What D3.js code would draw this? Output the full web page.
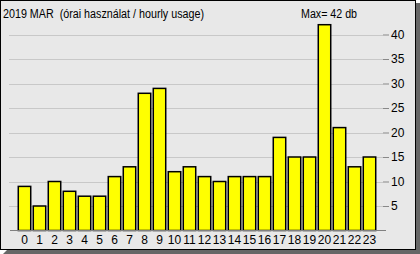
<!DOCTYPE html>
<html>
<head>
<meta charset="utf-8">
<script src="https://cdn.jsdelivr.net/npm/d3@7"></script>
<style>
  body { margin: 0; background: #fff; }
  svg { display: block; }
  text { font-family: "Liberation Sans", Arial, sans-serif; font-size: 12px; fill: #000; white-space: pre; }
</style>
</head>
<body>
<script>
var hours = d3.range(0, 24).map(String);
var usage = [9, 5, 10, 8, 7, 7, 11, 13, 28, 29, 12, 13, 11, 10, 11, 11, 11, 19, 15, 15, 42, 21, 13, 15];
var yTicks = [5, 10, 15, 20, 25, 30, 35, 40];
var title = "2019 MAR  (órai használat / hourly usage)";
var maxLabel = "Max= " + d3.max(usage) + " db";

var width = 420, height = 254;

var svg = d3.select("body").append("svg")
    .attr("width", width)
    .attr("height", height);

// shadow + frame
svg.append("polygon")
    .attr("points", "416,3 420,3 420,254 3,254 7,250 416,250")
    .attr("fill", "#666");
svg.append("rect")
    .attr("x", 0.5).attr("y", 0.5)
    .attr("width", 415).attr("height", 249)
    .attr("fill", "#e8e8e8")
    .attr("stroke", "#000");

var x = d3.scaleBand()
    .domain(hours)
    .range([17, 377])
    .paddingInner(0.17)
    .paddingOuter(0.085);

var y = d3.scaleLinear()
    .domain([0, 40])
    .range([230.5, 34.5]);

// grid
svg.selectAll(".grid").data(yTicks).enter().append("line")
    .attr("x1", 9).attr("x2", 383)
    .attr("y1", function(d) { return Math.round(y(d)) + 0.5; })
    .attr("y2", function(d) { return Math.round(y(d)) + 0.5; })
    .attr("stroke", "#c8c8c8");

var yAxis = svg.append("g")
    .attr("transform", "translate(383,0)")
    .call(d3.axisRight(y).tickValues(yTicks).tickSize(6).tickPadding(2).tickSizeOuter(0));
yAxis.select(".domain").remove();
yAxis.selectAll(".tick line").attr("stroke", "#888");
yAxis.selectAll("text").attr("font-size", 12).attr("font-family", null);

// bars
svg.selectAll(".bar").data(usage).enter().append("rect")
    .attr("x", function(d, i) { return x(hours[i]); })
    .attr("y", function(d) { return y(d); })
    .attr("width", x.bandwidth())
    .attr("height", function(d) { return y(0) - y(d); })
    .attr("fill", "#ffff00")
    .attr("stroke", "#000")
    .attr("stroke-width", 1.5);

// baseline
svg.append("line")
    .attr("x1", 10).attr("x2", 386)
    .attr("y1", 230.5).attr("y2", 230.5)
    .attr("stroke", "#808080");

var xAxis = svg.append("g")
    .attr("transform", "translate(0,231)")
    .call(d3.axisBottom(x).tickSize(0).tickPadding(4));
xAxis.select(".domain").remove();
xAxis.selectAll("text").attr("font-size", 12).attr("font-family", null);

svg.append("text")
    .attr("x", 3).attr("y", 18)
    .attr("textLength", 201)
    .attr("lengthAdjust", "spacingAndGlyphs")
    .text(title);

svg.append("text")
    .attr("x", 301).attr("y", 18)
    .attr("textLength", 56)
    .attr("lengthAdjust", "spacingAndGlyphs")
    .text(maxLabel);
</script>
</body>
</html>
